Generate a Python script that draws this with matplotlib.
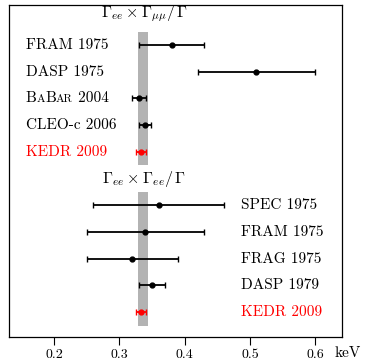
import matplotlib
matplotlib.use("Agg")
import matplotlib.pyplot as plt
from matplotlib.offsetbox import TextArea, HPacker, AnnotationBbox

plt.rcParams['font.family'] = 'cmr10'
plt.rcParams['mathtext.fontset'] = 'cm'
plt.rcParams['axes.formatter.use_mathtext'] = True

# Gamma_ee x Gamma_mumu / Gamma
mm_labels = ["FRAM 1975", "DASP 1975", "BABAR 2004", "CLEO-c 2006", "KEDR 2009"]
mm_values = [0.38, 0.51, 0.330, 0.339, 0.333]
mm_errors = [0.05, 0.09, 0.011, 0.009, 0.008]
mm_ypos = [1.5, 2.5, 3.5, 4.5, 5.5]

# Gamma_ee x Gamma_ee / Gamma
ee_labels = ["SPEC 1975", "FRAM 1975", "FRAG 1975", "DASP 1979", "KEDR 2009"]
ee_values = [0.36, 0.34, 0.32, 0.35, 0.333]
ee_errors = [0.10, 0.09, 0.07, 0.02, 0.008]
ee_ypos = [7.5, 8.5, 9.5, 10.5, 11.5]

band = (0.329, 0.344)
xticks = [0.2, 0.3, 0.4, 0.5, 0.6]

fig = plt.figure(figsize=(3.65, 3.61), dpi=100)
ax = fig.add_axes([9/365, 1-337/361, 333/365, 332/361])
ax.set_xlim(0.131, 0.641)
ax.set_ylim(12.43, 0)

ax.fill_betweenx([1.0, 6.0], band[0], band[1], color='#b3b3b3', lw=0, zorder=1)
ax.fill_betweenx([7.0, 12.0], band[0], band[1], color='#b3b3b3', lw=0, zorder=1)

def draw(vals, errs, ys, labels, xlab):
    for v, e, y, lab in zip(vals, errs, ys, labels):
        col = 'red' if 'KEDR' in lab else 'black'
        ax.errorbar(v, y, xerr=e, fmt='o', color=col, ms=3.5, lw=1.3,
                    capsize=2, capthick=1.0, zorder=3)
        if lab.startswith("BABAR"):
            parts = [TextArea("B", textprops=dict(size=11, color=col)),
                     TextArea("A", textprops=dict(size=8.2, color=col)),
                     TextArea("B", textprops=dict(size=11, color=col)),
                     TextArea("AR", textprops=dict(size=8.2, color=col)),
                     TextArea(" 2004", textprops=dict(size=11, color=col))]
            box = HPacker(children=parts, align="baseline", pad=0, sep=0)
            ab = AnnotationBbox(box, (xlab, y), xycoords=('axes fraction', 'data'),
                                box_alignment=(0, 0.5), frameon=False, pad=0)
            ax.add_artist(ab)
        else:
            ax.text(xlab, y, lab, transform=ax.get_yaxis_transform(),
                    ha='left', va='center', fontsize=11, color=col)

draw(mm_values, mm_errors, mm_ypos, mm_labels, 0.05)
draw(ee_values, ee_errors, ee_ypos, ee_labels, 0.697)

ax.text(0.3385, 0.33, r'$\Gamma_{ee}\times\Gamma_{\mu\mu}/\,\Gamma$', ha='center',
        va='center', fontsize=11.5)
ax.text(0.337, 6.5, r'$\Gamma_{ee}\times\Gamma_{ee}/\,\Gamma$', ha='center',
        va='center', fontsize=11.5)

ax.set_yticks([])
ax.set_xticks(xticks)
ax.set_xticklabels([f"{t:.1f}" for t in xticks], fontsize=10)
ax.tick_params(axis='x', direction='out', length=6, width=0.8, pad=2.5)
for s in ax.spines.values():
    s.set_linewidth(0.9)
fig.text(335/365, 1-353/361, 'keV', fontsize=11, ha='left', va='center')

fig.savefig("out.png", dpi=100)
